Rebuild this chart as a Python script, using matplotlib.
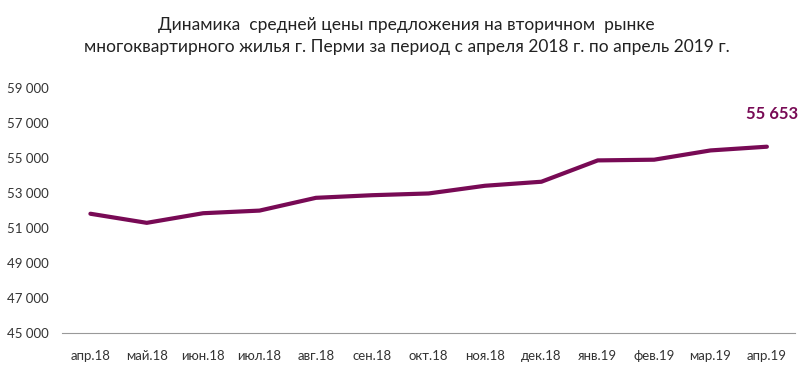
import matplotlib.pyplot as plt
from matplotlib.ticker import FuncFormatter

plt.rcParams['font.family'] = ['Lato', 'DejaVu Sans']

months = ['апр.18', 'май.18', 'июн.18', 'июл.18', 'авг.18', 'сен.18', 'окт.18',
          'ноя.18', 'дек.18', 'янв.19', 'фев.19', 'мар.19', 'апр.19']
prices = [51820, 51300, 51850, 52000, 52730, 52880, 52980,
          53420, 53650, 54870, 54910, 55440, 55653]

color = '#780a55'

fig = plt.figure(figsize=(8.08, 3.85), dpi=100)
ax = fig.add_axes([0.077, 0.135, 0.907, 0.636])
x = range(len(months))
ax.plot(x, prices, color=color, lw=3, solid_capstyle='round', solid_joinstyle='round')

ax.set_xlim(-0.5, len(months) - 0.5)
ax.set_ylim(45000, 59000)
ax.set_yticks(range(45000, 59001, 2000))
ax.yaxis.set_major_formatter(FuncFormatter(lambda v, p: '{:,.0f}'.format(v).replace(',', ' ')))
ax.set_xticks(list(x))
ax.set_xticklabels(months)
ax.tick_params(length=0, labelsize=9.5, colors='#333333')
ax.tick_params(axis='x', pad=12)
ax.tick_params(axis='y', pad=10)
for s in ['top', 'right', 'left']:
    ax.spines[s].set_visible(False)
ax.spines['bottom'].set_color('#999999')

last = len(months) - 1
ax.annotate('{:,.0f}'.format(prices[last]).replace(',', ' '), (last, prices[last]),
            xytext=(4, 18), textcoords='offset points', ha='center', va='bottom',
            fontsize=12, fontweight='bold', color=color)

fig.text(0.503, 0.955, 'Динамика  средней цены предложения на вторичном  рынке\n'
         'многоквартирного жилья г. Перми за период с апреля 2018 г. по апрель 2019 г.',
         ha='center', va='top', fontsize=12.5, linespacing=1.4, color='#222222')

plt.savefig('out.png')
